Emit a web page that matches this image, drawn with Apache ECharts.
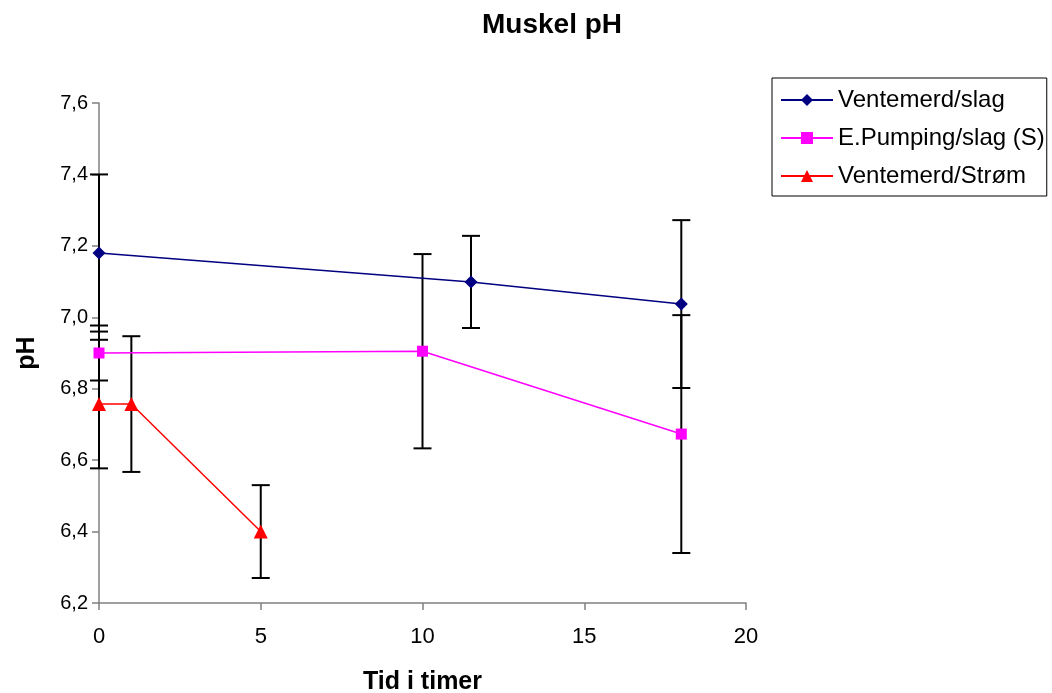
<!DOCTYPE html>
<html>
<head>
<meta charset="utf-8">
<script src="https://cdn.jsdelivr.net/npm/echarts@6/dist/echarts.min.js"></script>
<style>html,body{margin:0;padding:0;background:#fff}#c{width:1052px;height:693px}</style>
</head>
<body>
<div id="c"></div>
<script>
const seriesNames = ['Ventemerd/slag', 'E.Pumping/slag (S)', 'Ventemerd/Strøm'];
const xBlue = [0, 11.5, 18];
const yBlue = [7.18, 7.099, 7.037];
const errBlue = [0.22, 0.129, 0.235];
const xMag = [0, 10, 18];
const yMag = [6.90, 6.905, 6.673];
const errMag = [0.077, 0.272, 0.333];
const xRed = [0, 1, 5];
const yRed = [6.757, 6.757, 6.40];
const errRed = [0.18, 0.19, 0.13];
const colors = ['#000080', '#FF00FF', '#FF0000'];
const symbols = ['diamond', 'rect', 'triangle'];
const symbolSizes = [13, 11, 14];

const font = 'Liberation Sans, Arial, sans-serif';
const groups = [[xBlue, yBlue, errBlue], [xMag, yMag, errMag], [xRed, yRed, errRed]];

const errData = [];
groups.forEach(g => g[0].forEach((x, i) => errData.push([x, g[1][i] - g[2][i], g[1][i] + g[2][i]])));

const series = [{
  type: 'custom',
  name: 'err',
  z: 1,
  silent: true,
  data: errData,
  encode: {x: 0, y: [1, 2]},
  renderItem: function (params, api) {
    const x = api.value(0);
    const lo = api.coord([x, api.value(1)]);
    const hi = api.coord([x, api.value(2)]);
    const hw = 9;
    const st = {stroke: '#000', lineWidth: 2};
    return {type: 'group', children: [
      {type: 'line', shape: {x1: lo[0], y1: lo[1], x2: hi[0], y2: hi[1]}, style: st},
      {type: 'line', shape: {x1: lo[0] - hw, y1: lo[1], x2: lo[0] + hw, y2: lo[1]}, style: st},
      {type: 'line', shape: {x1: hi[0] - hw, y1: hi[1], x2: hi[0] + hw, y2: hi[1]}, style: st}
    ]};
  }
}];
groups.forEach((g, k) => {
  series.push({
    type: 'line',
    name: seriesNames[k],
    z: 3,
    data: g[0].map((x, i) => [x, g[1][i]]),
    symbol: symbols[k],
    symbolSize: symbolSizes[k],
    showAllSymbol: true,
    lineStyle: {color: colors[k], width: 1.5},
    itemStyle: {color: colors[k]},
    emphasis: {disabled: true},
    animation: false
  });
});

const chart = echarts.init(document.getElementById('c'));
chart.setOption({
  animation: false,
  backgroundColor: '#fff',
  title: {
    text: 'Muskel pH', left: 547, top: 6, textAlign: 'center',
    textStyle: {fontFamily: font, fontWeight: 'bold', fontSize: 28, color: '#000'}
  },
  legend: {
    data: seriesNames,
    orient: 'vertical',
    left: 772, top: 78,
    padding: [10, 2, 8, 8],
    borderColor: '#000', borderWidth: 1,
    itemGap: 14,
    itemWidth: 52, itemHeight: 15,
    textStyle: {fontFamily: font, fontSize: 24, color: '#000', padding: [0, 0, 0, 0]},
    selectedMode: false
  },
  grid: {left: 99, right: 306, top: 103, bottom: 90, containLabel: false, outerBoundsMode: 'none'},
  xAxis: {
    type: 'value', min: 0, max: 20, interval: 5,
    name: 'Tid i timer', nameLocation: 'middle', nameGap: 67,
    nameTextStyle: {fontFamily: font, fontWeight: 'bold', fontSize: 25, color: '#000'},
    axisLine: {lineStyle: {color: '#808080', width: 1.5}},
    axisTick: {show: true, length: 7, lineStyle: {color: '#808080', width: 1.5}},
    axisLabel: {fontFamily: font, fontSize: 22, color: '#000', margin: 23},
    splitLine: {show: false}
  },
  yAxis: {
    type: 'value', min: 6.2, max: 7.6, interval: 0.2,
    name: 'pH', nameLocation: 'middle', nameGap: 59, nameRotate: 90,
    nameTextStyle: {fontFamily: font, fontWeight: 'bold', fontSize: 25, color: '#000'},
    axisLine: {show: true, lineStyle: {color: '#808080', width: 1.5}},
    axisTick: {show: true, length: 7, lineStyle: {color: '#808080', width: 1.5}},
    axisLabel: {fontFamily: font, fontSize: 20, color: '#000', margin: 11,
      formatter: v => v.toFixed(1).replace('.', ',')},
    splitLine: {show: false}
  },
  series: series
});
</script>
</body>
</html>
